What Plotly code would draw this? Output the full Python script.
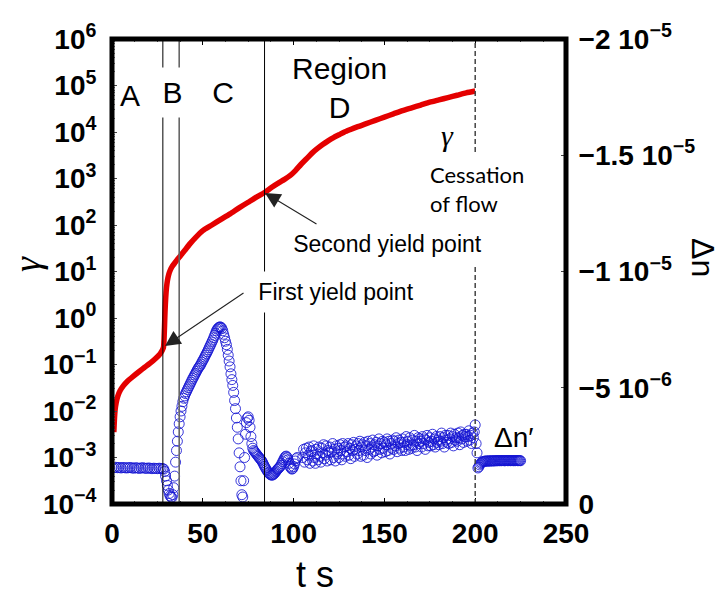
import plotly.graph_objects as go

# ---------------- data ----------------
# strain gamma vs time (left log axis)
t_gamma = [1.0, 1.3, 1.7, 2.3, 3.2, 4.5, 6.2, 8.5, 11.5, 15, 18, 21, 24, 26.5, 28.3,
           28.6, 28.9, 29.2, 29.6, 30.0, 30.5, 31.2, 32, 33, 34.5, 36, 37.5, 40, 43, 46,
           50, 55, 60, 65, 70, 75, 80, 84, 88, 92, 95, 98, 101, 104, 107, 110, 113, 116,
           119, 122, 125, 128, 131, 135, 140, 145, 150, 155, 160, 165, 170, 175, 180, 185,
           190, 195, 200]
gamma = [3.5e-3, 6.3e-3, 1.05e-2, 1.51e-2, 2.09e-2, 2.75e-2, 3.47e-2, 4.37e-2, 5.5e-2,
         7.08e-2, 8.71e-2, 0.107, 0.135, 0.17, 0.229,
         0.316, 0.631, 1.41, 2.82, 4.47, 6.31, 8.51, 10.5, 12.6, 15.1, 18.2, 21.4, 28.2,
         39.8, 53.7, 75.9, 100, 132, 174, 234, 309, 407, 501, 646, 813, 955, 1150, 1480,
         2000, 2630, 3470, 4370, 5370, 6460, 7590, 8710, 10000, 11200, 12900, 15100,
         17800, 20900, 24500, 28800, 33100, 38000, 43700, 49000, 55000, 61700, 69200, 75900]

# birefringence Delta n' (right axis, units of 1e-6)
dn_rest = [-1.58, -1.57, -1.58, -1.56, -1.57, -1.55, -1.57, -1.56, -1.55, -1.56, -1.57, -1.55,
           -1.54, -1.56, -1.55, -1.53, -1.55, -1.56, -1.54, -1.53, -1.55, -1.54, -1.52, -1.54,
           -1.53, -1.52, -1.54, -1.53, -1.52]                       # t = 0 .. 28, step 1
dn_yield = [-1.5, -1.4, -1.2, -1.0, -0.8, -0.6, -0.45, -0.35, -0.3, -0.28,
            -0.4, -0.7, -1.2, -1.8, -2.3, -2.7, -3.1, -3.45, -3.75, -4.0,
            -4.2, -4.4, -4.55, -4.65, -4.75, -4.83, -4.92, -5.0, -5.08, -5.16,
            -5.24, -5.32, -5.4, -5.47, -5.55, -5.62, -5.7, -5.77, -5.84, -5.9,
            -5.95, -6.02, -6.1, -6.17, -6.24, -6.32, -6.4, -6.47, -6.55, -6.63,
            -6.72, -6.8, -6.88, -6.97, -7.05, -7.15, -7.25, -7.35, -7.45, -7.52,
            -7.57, -7.6, -7.62, -7.6, -7.55, -7.45, -7.3, -7.15, -7.0, -6.85,
            -6.65, -6.4, -6.15, -5.9, -5.6, -5.35, -5.1, -4.8, -4.45, -4.1,
            -3.7, -3.3, -2.8, -2.2, -1.6, -1.0, -0.4, -0.3, -1.0, -2.0,
            -3.0, -3.5, -3.7, -3.75, -3.6, -3.3, -2.9, -2.6, -2.4, -2.3,
            -2.25, -2.2, -2.15, -2.1, -2.05, -2.0, -1.95, -1.9, -1.85, -1.78,
            -1.7, -1.62, -1.55, -1.48, -1.42, -1.36, -1.32, -1.28, -1.25, -1.24,
            -1.25, -1.28, -1.32, -1.37, -1.42, -1.48, -1.52, -1.56, -1.6, -1.66,
            -1.74, -1.82, -1.9, -1.98, -2.04, -2.06, -2.0, -1.9, -1.75, -1.62,
            -1.55, -1.5, -1.52, -1.6, -1.72, -1.85, -1.95, -2.0]     # t = 28.5 .. 104.5, step 0.5
dn_flow = [-2.0, -2.35, -1.8, -2.2, -2.4, -1.9, -2.1, -2.45, -1.75, -2.25,
           -2.3, -1.85, -2.5, -2.0, -1.75, -2.35, -2.15, -1.9, -2.45, -2.05,
           -1.8, -2.4, -2.2, -2.55, -1.95, -2.1, -2.5, -1.85, -2.3, -2.2,
           -2.45, -1.9, -2.25, -2.6, -2.0, -2.35, -1.85, -2.5, -2.15, -2.4,
           -2.0, -2.55, -2.3, -1.9, -2.6, -2.15, -2.45, -2.05, -2.5, -2.25,
           -2.6, -2.1, -2.4, -1.95, -2.55, -2.3, -2.65, -2.05, -2.35, -2.5,
           -2.15, -2.6, -2.3, -2.7, -2.05, -2.45, -2.55, -2.1, -2.65, -2.3,
           -2.5, -2.0, -2.7, -2.35, -2.6, -2.15, -2.45, -2.75, -2.25, -2.55,
           -2.3, -2.65, -2.1, -2.5, -2.8, -2.35, -2.6, -2.2, -2.7, -2.4,
           -2.65, -2.25, -2.55, -2.8, -2.3, -2.7, -2.15, -2.6, -2.4, -2.75,
           -2.35, -2.7, -2.5, -2.85, -2.25, -2.6, -2.75, -2.4, -2.65, -2.3,
           -2.8, -2.45, -2.65, -2.3, -2.9, -2.55, -2.7, -2.35, -2.85, -2.5,
           -2.4, -2.75, -2.55, -2.95, -2.45, -2.7, -2.3, -2.85, -2.6, -2.8,
           -2.7, -2.45, -2.9, -2.6, -2.8, -2.35, -2.75, -2.95, -2.5, -2.65,
           -2.85, -2.5, -2.7, -3.0, -2.55, -2.8, -2.45, -2.9, -2.65, -2.75,
           -2.55, -2.9, -2.7, -3.05, -2.6, -2.85, -2.45, -2.95, -2.75, -2.65,
           -2.95, -2.6, -2.8, -3.05, -2.65, -2.9, -2.5, -3.0, -2.75, -2.85,
           -2.7, -3.05, -2.85, -2.55, -3.1, -2.8, -2.95, -2.65, -3.0, -2.9,
           -3.0, -2.7, -2.9, -3.15, -2.75, -2.95, -2.6, -3.05, -2.85, -3.1,
           -3.4, -2.6, -2.2]                                          # t = 105 .. 201, step 0.5
dn_stop = [-1.55, -1.6, -1.68, -1.74, -1.78, -1.81, -1.83, -1.84, -1.84, -1.85, -1.85, -1.84,
           -1.86, -1.85, -1.85, -1.86, -1.85, -1.86, -1.86, -1.85, -1.87, -1.86, -1.86, -1.87,
           -1.86, -1.87, -1.86, -1.87, -1.87, -1.86, -1.86, -1.87, -1.87, -1.86, -1.87, -1.87,
           -1.86, -1.87, -1.87, -1.86, -1.87, -1.86, -1.87, -1.87, -1.86, -1.87, -1.87, -1.86]  # t = 201.5 .. 225, step 0.5

segments = [(0.0, 1.0, dn_rest), (28.5, 0.5, dn_yield), (105.0, 0.5, dn_flow), (201.5, 0.5, dn_stop)]
t_dn, dn = [], []
for t0, dt, vals in segments:
    t_dn += [t0 + i * dt for i in range(len(vals))]
    dn += [v * 1e-6 for v in vals]

x_ticks = [0, 50, 100, 150, 200, 250]
y_ticks = [1e-4, 1e-3, 1e-2, 1e-1, 1e0, 1e1, 1e2, 1e3, 1e4, 1e5, 1e6]
y_ticktext = ["10<sup>\u22124</sup>", "10<sup>\u22123</sup>", "10<sup>\u22122</sup>", "10<sup>\u22121</sup>",
              "10<sup>0</sup>", "10<sup>1</sup>", "10<sup>2</sup>", "10<sup>3</sup>", "10<sup>4</sup>",
              "10<sup>5</sup>", "10<sup>6</sup>"]
y2_ticks = [0, -5e-6, -1e-5, -1.5e-5, -2e-5]
y2_ticktext = ["0", "\u22125 10<sup>\u22126</sup>", "\u22121 10<sup>\u22125</sup>",
               "\u22121.5 10<sup>\u22125</sup>", "\u22122 10<sup>\u22125</sup>"]
region_lines = [28, 37, 84]
cessation_t = 200

# ---------------- layout helpers ----------------
W, H = 726, 594
L, R, T, B = 112, 566, 39, 504


def P(px, py):
    return (px - L) / (R - L), (B - py) / (B - T)


TICKFONT = dict(family="Liberation Sans, Arial", size=28, color="black", weight="bold")
SANS = "Liberation Sans, Arial"

fig = go.Figure()
fig.add_trace(go.Scatter(x=t_gamma, y=gamma, mode="lines",
                         line=dict(color="#e40000", width=5.5, shape="spline", smoothing=0.6),
                         yaxis="y", showlegend=False, hoverinfo="skip"))
fig.add_trace(go.Scatter(x=t_dn, y=dn, mode="markers", yaxis="y2", showlegend=False,
                         marker=dict(symbol="circle-open", size=10, color="rgba(20,20,210,0.85)",
                                     line=dict(width=1))))

shapes = []
for xv, col, w in zip(region_lines, ["black", "#666666", "black"], [1, 1.6, 1]):
    shapes.append(dict(type="line", xref="x", yref="paper", x0=xv, x1=xv, y0=0, y1=1,
                       line=dict(color=col, width=w), layer="above"))
shapes.append(dict(type="line", xref="x", yref="paper", x0=cessation_t, x1=cessation_t, y0=0, y1=1,
                   line=dict(color="#444444", width=1.5, dash="5px,3px"), layer="above"))
shapes.append(dict(type="rect", xref="paper", yref="paper", x0=0, x1=1, y0=0, y1=1,
                   line=dict(color="black", width=5), layer="above"))

ann = []


def text(px, py, s, size, family=SANS, bg=None, w=None, h=None, align="center", angle=0, color="black"):
    x, y = P(px, py)
    d = dict(xref="paper", yref="paper", x=x, y=y, text=s, showarrow=False, xanchor="center",
             yanchor="middle", font=dict(family=family, size=size, color=color), align=align,
             textangle=angle)
    if bg:
        d.update(bgcolor=bg)
    if w:
        d.update(width=w)
    if h:
        d.update(height=h)
    ann.append(d)


text(130, 95, "A", 30)
text(172, 92, "B", 30, bg="white", w=41, h=47)
text(223, 92, "C", 30, bg="white", w=36, h=47)
text(339, 88, "Region<br>D", 30)
text(447, 135, "<i>\u03b3</i>", 30, family="Liberation Serif, DejaVu Serif")
text(492, 189, "Cessation<br>of flow", 22, family="Lato, Open Sans", bg="white", w=125, h=70, align="left")
text(387, 244, "Second yield point", 23, bg="white", w=205, h=38)
text(336, 292, "First yield point", 23, bg="white", w=182, h=38)
text(514, 437, "\u0394n\u2032", 28)
text(703, 257, "\u0394n", 32, angle=90)
text(27, 264, "<i>\u03b3</i>", 38, family="Liberation Serif, DejaVu Serif", angle=-90)
text(315, 574, "t s", 36)

# arrows
for (tipx, tipy), (tailx, taily) in [((165, 346), (245, 292)), ((265, 193), (318, 225))]:
    x, y = P(tipx, tipy)
    ann.append(dict(xref="paper", yref="paper", x=x, y=y, text="", showarrow=True,
                    ax=tailx - tipx, ay=taily - tipy, arrowhead=2, arrowsize=2.8, arrowwidth=1.1,
                    arrowcolor="#222222"))

fig.update_layout(
    width=W, height=H, margin=dict(l=L, r=W - R, t=T, b=H - B, pad=0),
    paper_bgcolor="white", plot_bgcolor="white",
    shapes=shapes, annotations=ann,
    xaxis=dict(range=[0, 250], tickmode="array", tickvals=x_ticks, ticks="inside", ticklen=6,
               tickcolor="black", tickfont=TICKFONT, showgrid=False, zeroline=False,
               showline=True, linecolor="black", linewidth=1, mirror="ticks", ticklabelstandoff=4,
               minor=dict(tickmode="linear", tick0=0, dtick=12.5, ticks="inside", ticklen=3,
                          tickcolor="#555555")),
    yaxis=dict(type="log", range=[-4, 6], tickmode="array", tickvals=y_ticks, ticktext=y_ticktext,
               ticks="inside", ticklen=5, tickcolor="#444444", tickfont=TICKFONT, showgrid=False,
               zeroline=False, showline=True, linecolor="black", linewidth=1, ticklabelstandoff=9,
               minor=dict(ticks="inside", ticklen=2.5, tickcolor="#777777", dtick="D1")),
    yaxis2=dict(overlaying="y", side="right", range=[0, -2e-5], tickmode="array", tickvals=y2_ticks,
                ticktext=y2_ticktext, ticks="inside", ticklen=5, tickcolor="#444444", tickfont=TICKFONT,
                showgrid=False, zeroline=False, showline=True, linecolor="black", linewidth=1,
                ticklabelstandoff=6,
                minor=dict(tickmode="linear", tick0=0, dtick=1e-6, ticks="inside", ticklen=2.5,
                           tickcolor="#777777")),
)

fig.write_html("out.html")
